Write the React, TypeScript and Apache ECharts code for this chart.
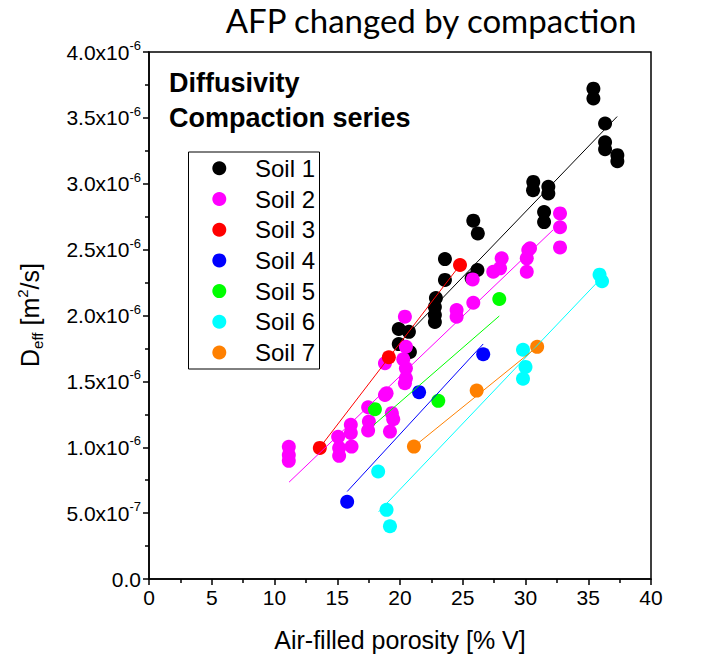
import React, { useEffect, useRef } from "react";
import * as echarts from "echarts";

// Units: x in % V, y in 1e-6 m^2/s (scaled at build time)
const Y_UNIT = 1e-6;

const soilNames = ["Soil 1", "Soil 2", "Soil 3", "Soil 4", "Soil 5", "Soil 6", "Soil 7"];
const soilColors = ["#000000", "#FF00FF", "#FF0000", "#0000FF", "#00FF00", "#00FFFF", "#FF8000"];

const soil1 = [
  [35.41, 3.722], [35.41, 3.647], [36.34, 3.457], [36.34, 3.315], [36.34, 3.262],
  [37.32, 3.217], [37.32, 3.171], [30.62, 3.014], [30.6, 2.951], [31.82, 2.977],
  [31.82, 2.926], [31.48, 2.785], [31.48, 2.709], [25.84, 2.72], [26.2, 2.623],
  [26.17, 2.345], [25.71, 2.282], [23.58, 2.428], [23.58, 2.27], [22.86, 2.133],
  [22.78, 2.064], [22.78, 2.004], [22.78, 1.951], [19.9, 1.898], [20.71, 1.876],
  [19.9, 1.783], [20.79, 1.723],
];
const soil2 = [
  [11.14, 1.003], [11.14, 0.942], [11.14, 0.897], [15.07, 1.079], [15.15, 0.995],
  [15.15, 0.935], [16.08, 1.17], [16.08, 1.109], [16.14, 1.005], [17.46, 1.304],
  [17.52, 1.195], [17.46, 1.127], [18.8, 1.397], [19.2, 1.119], [19.35, 1.259],
  [19.46, 1.213], [18.93, 1.41], [18.8, 1.638], [20.26, 1.668], [20.47, 1.6],
  [20.47, 1.524], [20.39, 1.486], [20.39, 1.991], [20.47, 1.763], [24.51, 2.042],
  [24.51, 1.991], [25.84, 2.097], [25.79, 2.274], [27.43, 2.332], [28.1, 2.434],
  [27.97, 2.358], [30.1, 2.434], [30.22, 2.497], [30.1, 2.332], [30.36, 2.51],
  [32.75, 2.775], [32.75, 2.67], [32.75, 2.517],
];
const soil3 = [[13.61, 0.995], [19.11, 1.683], [24.78, 2.383]];
const soil4 = [[15.79, 0.586], [21.52, 1.418], [26.63, 1.706]];
const soil5 = [[18.0, 1.289], [23.05, 1.352], [27.91, 2.125]];
const soil6 = [
  [18.26, 0.816], [18.93, 0.525], [19.2, 0.4], [29.8, 1.74], [30.0, 1.61],
  [29.8, 1.52], [35.9, 2.31], [36.1, 2.26],
];
const soil7 = [[21.11, 1.005], [26.11, 1.43], [30.93, 1.762]];

// Linear-fit line end points
const fit1 = [[19.83, 1.78], [37.3, 3.51]];
const fit2 = [[11.16, 0.735], [32.2, 2.65]];
const fit3 = [[13.88, 1.031], [24.78, 2.383]];
const fit4 = [[15.79, 0.664], [26.63, 1.784]];
const fit5 = [[17.92, 1.17], [27.91, 1.996]];
const fit6 = [[18.3, 0.51], [36.0, 2.28]];
const fit7 = [[21.11, 1.005], [30.93, 1.762]];

const xTicks = { min: 0, max: 40, interval: 5 };
const yTicks = { min: 0, max: 4e-6, interval: 0.5e-6 };

const soilData = [soil1, soil2, soil3, soil4, soil5, soil6, soil7];
const fitData = [fit1, fit2, fit3, fit4, fit5, fit6, fit7];

const toReal = (pts: number[][]) => pts.map(([x, y]) => [x, y * Y_UNIT]);

function yLabel(v: number): string {
  if (Math.abs(v) < 1e-15) return "{n|0.0}";
  const exp = Math.floor(Math.log10(v) + 1e-9);
  const mant = v / Math.pow(10, exp);
  return `{n|${mant.toFixed(1)}x10}{sup|${exp}}`;
}

export default function App() {
  const ref = useRef<HTMLDivElement>(null);
  useEffect(() => {
    if (!ref.current) return;
    const chart = echarts.init(ref.current, undefined, { renderer: "svg" });
    const font = "Liberation Sans";
    const scatterSeries = soilNames.map((name, i) => ({
      name,
      type: "scatter",
      data: toReal(soilData[i]),
      symbol: "circle",
      symbolSize: 14,
      itemStyle: { color: soilColors[i], opacity: 1 },
      z: 2,
    }));
    const lineSeries = soilNames.map((name, i) => ({
      name: name + " fit",
      type: "line",
      data: toReal(fitData[i]),
      showSymbol: false,
      symbol: "none",
      lineStyle: { color: soilColors[i], width: 1 },
      silent: true,
      z: 3,
    }));

    // Legend box drawn with graphic elements
    const legLeft = 188.5;
    const legTop = 152;
    const legW = 131;
    const legH = 217;
    const legRow0 = 168.3;
    const legStep = 30.7;
    const legendGraphics: any[] = [
      {
        type: "rect",
        shape: { x: legLeft, y: legTop, width: legW, height: legH },
        style: { fill: "#fff", stroke: "#000", lineWidth: 1 },
        z: 10,
      },
    ];
    soilNames.forEach((name, i) => {
      const cy = legRow0 + i * legStep;
      legendGraphics.push({
        type: "circle",
        shape: { cx: 219.3, cy, r: 7 },
        style: { fill: soilColors[i] },
        z: 11,
      });
      legendGraphics.push({
        type: "text",
        x: 255,
        y: cy,
        style: {
          text: name,
          fontFamily: font,
          fontSize: 24,
          fill: "#000",
          align: "left",
          verticalAlign: "middle",
        },
        z: 11,
      });
    });

    chart.setOption({
      animation: false,
      backgroundColor: "#ffffff",
      grid: {
        left: 149,
        top: 52,
        width: 502,
        height: 527,
        show: true,
        borderColor: "#000",
        borderWidth: 1.5,
      },
      xAxis: {
        type: "value",
        min: xTicks.min,
        max: xTicks.max,
        interval: xTicks.interval,
        name: "Air-filled porosity [% V]",
        nameLocation: "middle",
        nameGap: 48,
        nameTextStyle: { fontFamily: font, fontSize: 25, color: "#000" },
        axisLine: { show: true, lineStyle: { color: "#000", width: 1.5 } },
        axisTick: { show: true, inside: false, length: 6, lineStyle: { color: "#000", width: 1.5 } },
        minorTick: { show: true, splitNumber: 2, length: 4, lineStyle: { color: "#000", width: 1.5 } },
        splitLine: { show: false },
        axisLabel: { fontFamily: font, fontSize: 21, color: "#000", margin: 8 },
      },
      yAxis: {
        type: "value",
        min: yTicks.min,
        max: yTicks.max,
        interval: yTicks.interval,
        axisLine: { show: true, lineStyle: { color: "#000", width: 1.5 } },
        axisTick: { show: true, inside: false, length: 6, lineStyle: { color: "#000", width: 1.5 } },
        minorTick: { show: true, splitNumber: 2, length: 4, lineStyle: { color: "#000", width: 1.5 } },
        splitLine: { show: false },
        axisLabel: {
          formatter: yLabel,
          margin: 8,
          color: "#000",
          rich: {
            n: { fontFamily: font, fontSize: 21, color: "#000", lineHeight: 26 },
            sup: { fontFamily: font, fontSize: 13, color: "#000", lineHeight: 13, verticalAlign: "top" },
          },
        },
      },
      graphic: [
        {
          type: "text",
          x: 431,
          y: 20,
          style: {
            text: "AFP changed by compaction",
            fontFamily: "Lato",
            fontSize: 33,
            fill: "#000",
            align: "center",
            verticalAlign: "middle",
          },
        },
        {
          type: "text",
          x: 169,
          y: 69,
          style: {
            text: "Diffusivity",
            fontFamily: font,
            fontWeight: "bold",
            fontSize: 27,
            fill: "#000",
            align: "left",
            verticalAlign: "top",
          },
        },
        {
          type: "text",
          x: 169,
          y: 104,
          style: {
            text: "Compaction series",
            fontFamily: font,
            fontWeight: "bold",
            fontSize: 27,
            fill: "#000",
            align: "left",
            verticalAlign: "top",
          },
        },
        {
          type: "text",
          x: 30,
          y: 315,
          rotation: Math.PI / 2,
          style: {
            text: "{n|D}{sub|eff}{n| [m}{sup|2}{n|/s]}",
            align: "center",
            verticalAlign: "middle",
            fill: "#000",
            rich: {
              n: { fontFamily: font, fontSize: 25, lineHeight: 30, fill: "#000" },
              sub: { fontFamily: font, fontSize: 15, lineHeight: 15, verticalAlign: "bottom", fill: "#000" },
              sup: { fontFamily: font, fontSize: 15, lineHeight: 15, verticalAlign: "top", fill: "#000" },
            },
          },
        },
        ...legendGraphics,
      ],
      series: [...scatterSeries, ...lineSeries],
    });
    return () => chart.dispose();
  }, []);
  return (
    <div
      ref={ref}
      style={{ position: "absolute", left: 0, top: 0, width: 705, height: 664 }}
    />
  );
}
